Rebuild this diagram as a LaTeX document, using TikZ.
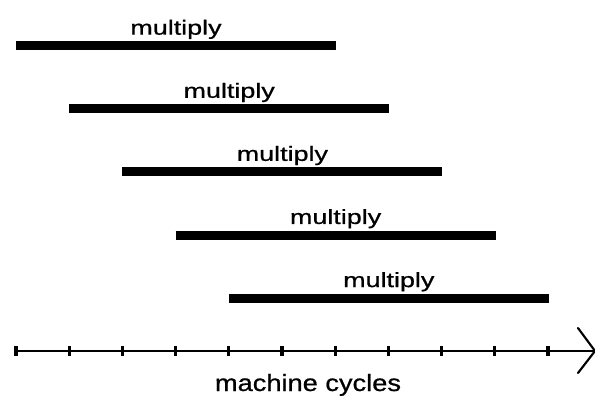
\documentclass[tikz,border=0pt]{standalone}
\usepackage{fontspec}
\setmainfont{Liberation Sans}
\newfontfamily\labelfont[FakeBold=0.7]{Liberation Sans}
\usetikzlibrary{calc}
\begin{document}
\begin{tikzpicture}[x=0.75pt,y=-0.75pt,
  bar/.style={line width=6.75pt},
  oplabel/.style={anchor=south,inner sep=0pt,font=\labelfont\fontsize{15.4}{18}\selectfont,xscale=1.31},
  axislabel/.style={anchor=base,inner sep=0pt,font=\labelfont\fontsize{17.6}{21}\selectfont,xscale=1.16},
  axisline/.style={line width=1.6pt},
  tick/.style={line width=2.3pt},
  barb/.style={line width=1.6pt,line cap=round}]
\useasboundingbox (0,0) rectangle (595,396);
% pipelined multiply operations, each spanning six cycles
\foreach \i in {0,...,4}{
  \pgfmathsetmacro{\xa}{16+53.2*\i}
  \pgfmathsetmacro{\xb}{\xa+320}
  \pgfmathsetmacro{\yy}{45.7+63.1*\i}
  \coordinate (s\i) at (\xa,\yy);
  \coordinate (e\i) at (\xb,\yy);
  \draw[bar] (s\i) -- (e\i);
  \node[oplabel] (m\i) at ($(s\i)!0.5!(e\i)+(0,-6.5)$) {multiply};
}
% time axis
\coordinate (a0) at (14,351);
\coordinate (a1) at (595,351);
\draw[axisline] (a0) -- (a1);
\draw[barb] (578,328) -- (a1) -- (578,373);
\foreach \k in {0,...,10}{
  \draw[tick] ({16+53.2*\k},346) -- ({16+53.2*\k},356);
}
\node[axislabel] (lbl) at (308,391) {machine cycles};
\end{tikzpicture}
\end{document}
